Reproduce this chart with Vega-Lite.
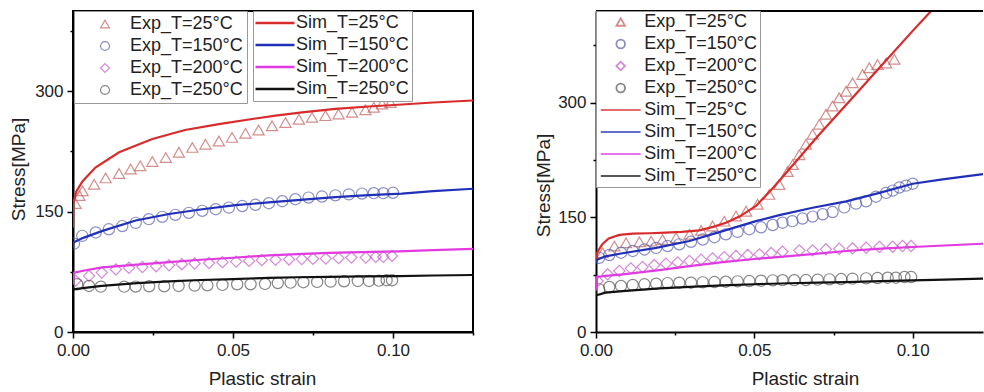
{
  "$schema": "https://vega.github.io/schema/vega-lite/v6.json",
  "padding": {"left": 8, "top": 9, "right": 0, "bottom": 0},
  "background": "white",
  "config": {
    "font": "Liberation Sans",
    "view": {"stroke": "black", "strokeWidth": 2},
    "axis": {"grid": false, "domainColor": "black", "domainWidth": 2, "tickColor": "black", "tickWidth": 1.5, "labelFont": "Liberation Sans", "labelFontSize": 17, "labelColor": "#222", "labelPadding": 4, "labelFlush": false, "titleFont": "Liberation Sans", "titleFontSize": 19, "titleFontWeight": "normal", "titleColor": "#222"},
    "legend": {"labelFont": "Liberation Sans", "labelFontSize": 18, "labelColor": "#222", "rowPadding": 4, "strokeColor": "#999", "fillColor": "white", "padding": 4, "orient": "none"}
  },
  "datasets": {
    "leftExp": [
      {"strain": 0.0008, "stress": 160, "series": "Exp_T=25°C"},
      {"strain": 0.002, "stress": 170, "series": "Exp_T=25°C"},
      {"strain": 0.003, "stress": 176, "series": "Exp_T=25°C"},
      {"strain": 0.0066, "stress": 184, "series": "Exp_T=25°C"},
      {"strain": 0.0102, "stress": 192, "series": "Exp_T=25°C"},
      {"strain": 0.0144, "stress": 197.5, "series": "Exp_T=25°C"},
      {"strain": 0.018, "stress": 203, "series": "Exp_T=25°C"},
      {"strain": 0.021, "stress": 207, "series": "Exp_T=25°C"},
      {"strain": 0.0248, "stress": 212.5, "series": "Exp_T=25°C"},
      {"strain": 0.029, "stress": 217.5, "series": "Exp_T=25°C"},
      {"strain": 0.0331, "stress": 224, "series": "Exp_T=25°C"},
      {"strain": 0.0373, "stress": 230, "series": "Exp_T=25°C"},
      {"strain": 0.0414, "stress": 234, "series": "Exp_T=25°C"},
      {"strain": 0.0456, "stress": 238, "series": "Exp_T=25°C"},
      {"strain": 0.0497, "stress": 242.5, "series": "Exp_T=25°C"},
      {"strain": 0.0539, "stress": 247.5, "series": "Exp_T=25°C"},
      {"strain": 0.058, "stress": 251.7, "series": "Exp_T=25°C"},
      {"strain": 0.0622, "stress": 257, "series": "Exp_T=25°C"},
      {"strain": 0.0664, "stress": 261, "series": "Exp_T=25°C"},
      {"strain": 0.0706, "stress": 265, "series": "Exp_T=25°C"},
      {"strain": 0.0747, "stress": 267.5, "series": "Exp_T=25°C"},
      {"strain": 0.0789, "stress": 269.6, "series": "Exp_T=25°C"},
      {"strain": 0.083, "stress": 271.7, "series": "Exp_T=25°C"},
      {"strain": 0.0872, "stress": 273.7, "series": "Exp_T=25°C"},
      {"strain": 0.0914, "stress": 277, "series": "Exp_T=25°C"},
      {"strain": 0.094, "stress": 280, "series": "Exp_T=25°C"},
      {"strain": 0.0966, "stress": 284, "series": "Exp_T=25°C"},
      {"strain": 0.0992, "stress": 286, "series": "Exp_T=25°C"},
      {"strain": 0.0003, "stress": 110, "series": "Exp_T=150°C"},
      {"strain": 0.0029, "stress": 119.8, "series": "Exp_T=150°C"},
      {"strain": 0.0071, "stress": 124, "series": "Exp_T=150°C"},
      {"strain": 0.0112, "stress": 128, "series": "Exp_T=150°C"},
      {"strain": 0.0154, "stress": 132, "series": "Exp_T=150°C"},
      {"strain": 0.0196, "stress": 136, "series": "Exp_T=150°C"},
      {"strain": 0.0237, "stress": 140.6, "series": "Exp_T=150°C"},
      {"strain": 0.0279, "stress": 143.5, "series": "Exp_T=150°C"},
      {"strain": 0.032, "stress": 146, "series": "Exp_T=150°C"},
      {"strain": 0.0362, "stress": 148.5, "series": "Exp_T=150°C"},
      {"strain": 0.0404, "stress": 151, "series": "Exp_T=150°C"},
      {"strain": 0.0446, "stress": 153, "series": "Exp_T=150°C"},
      {"strain": 0.0487, "stress": 155, "series": "Exp_T=150°C"},
      {"strain": 0.0529, "stress": 157, "series": "Exp_T=150°C"},
      {"strain": 0.057, "stress": 158.5, "series": "Exp_T=150°C"},
      {"strain": 0.0612, "stress": 160.5, "series": "Exp_T=150°C"},
      {"strain": 0.0654, "stress": 163, "series": "Exp_T=150°C"},
      {"strain": 0.0695, "stress": 165.5, "series": "Exp_T=150°C"},
      {"strain": 0.0736, "stress": 167.5, "series": "Exp_T=150°C"},
      {"strain": 0.0778, "stress": 168.8, "series": "Exp_T=150°C"},
      {"strain": 0.082, "stress": 170.3, "series": "Exp_T=150°C"},
      {"strain": 0.0862, "stress": 171.5, "series": "Exp_T=150°C"},
      {"strain": 0.0903, "stress": 172.5, "series": "Exp_T=150°C"},
      {"strain": 0.094, "stress": 173, "series": "Exp_T=150°C"},
      {"strain": 0.097, "stress": 173, "series": "Exp_T=150°C"},
      {"strain": 0.1, "stress": 173.5, "series": "Exp_T=150°C"},
      {"strain": 0.0008, "stress": 64, "series": "Exp_T=200°C"},
      {"strain": 0.005, "stress": 70, "series": "Exp_T=200°C"},
      {"strain": 0.009, "stress": 74, "series": "Exp_T=200°C"},
      {"strain": 0.0134, "stress": 78, "series": "Exp_T=200°C"},
      {"strain": 0.0175, "stress": 80, "series": "Exp_T=200°C"},
      {"strain": 0.0217, "stress": 81, "series": "Exp_T=200°C"},
      {"strain": 0.026, "stress": 82, "series": "Exp_T=200°C"},
      {"strain": 0.03, "stress": 83.2, "series": "Exp_T=200°C"},
      {"strain": 0.034, "stress": 84.5, "series": "Exp_T=200°C"},
      {"strain": 0.038, "stress": 85.3, "series": "Exp_T=200°C"},
      {"strain": 0.0425, "stress": 86, "series": "Exp_T=200°C"},
      {"strain": 0.0467, "stress": 87, "series": "Exp_T=200°C"},
      {"strain": 0.051, "stress": 87.7, "series": "Exp_T=200°C"},
      {"strain": 0.055, "stress": 88.6, "series": "Exp_T=200°C"},
      {"strain": 0.059, "stress": 89.5, "series": "Exp_T=200°C"},
      {"strain": 0.0633, "stress": 90, "series": "Exp_T=200°C"},
      {"strain": 0.0675, "stress": 90.4, "series": "Exp_T=200°C"},
      {"strain": 0.0715, "stress": 90.9, "series": "Exp_T=200°C"},
      {"strain": 0.075, "stress": 91.3, "series": "Exp_T=200°C"},
      {"strain": 0.079, "stress": 91.5, "series": "Exp_T=200°C"},
      {"strain": 0.083, "stress": 92, "series": "Exp_T=200°C"},
      {"strain": 0.087, "stress": 92.8, "series": "Exp_T=200°C"},
      {"strain": 0.0915, "stress": 92.8, "series": "Exp_T=200°C"},
      {"strain": 0.0946, "stress": 93.6, "series": "Exp_T=200°C"},
      {"strain": 0.097, "stress": 93.6, "series": "Exp_T=200°C"},
      {"strain": 0.0997, "stress": 94.8, "series": "Exp_T=200°C"},
      {"strain": 0.0013, "stress": 59.5, "series": "Exp_T=250°C"},
      {"strain": 0.005, "stress": 57.4, "series": "Exp_T=250°C"},
      {"strain": 0.0087, "stress": 56.5, "series": "Exp_T=250°C"},
      {"strain": 0.016, "stress": 56.5, "series": "Exp_T=250°C"},
      {"strain": 0.0196, "stress": 56.6, "series": "Exp_T=250°C"},
      {"strain": 0.0238, "stress": 57, "series": "Exp_T=250°C"},
      {"strain": 0.0285, "stress": 57, "series": "Exp_T=250°C"},
      {"strain": 0.033, "stress": 57.4, "series": "Exp_T=250°C"},
      {"strain": 0.038, "stress": 57.8, "series": "Exp_T=250°C"},
      {"strain": 0.042, "stress": 58.2, "series": "Exp_T=250°C"},
      {"strain": 0.0467, "stress": 58.7, "series": "Exp_T=250°C"},
      {"strain": 0.0513, "stress": 59.5, "series": "Exp_T=250°C"},
      {"strain": 0.0555, "stress": 59.5, "series": "Exp_T=250°C"},
      {"strain": 0.06, "stress": 59.9, "series": "Exp_T=250°C"},
      {"strain": 0.064, "stress": 61, "series": "Exp_T=250°C"},
      {"strain": 0.068, "stress": 61.5, "series": "Exp_T=250°C"},
      {"strain": 0.072, "stress": 62, "series": "Exp_T=250°C"},
      {"strain": 0.0763, "stress": 62.4, "series": "Exp_T=250°C"},
      {"strain": 0.0805, "stress": 62.8, "series": "Exp_T=250°C"},
      {"strain": 0.0847, "stress": 63.2, "series": "Exp_T=250°C"},
      {"strain": 0.089, "stress": 63.6, "series": "Exp_T=250°C"},
      {"strain": 0.0925, "stress": 63.6, "series": "Exp_T=250°C"},
      {"strain": 0.0956, "stress": 64, "series": "Exp_T=250°C"},
      {"strain": 0.098, "stress": 64.5, "series": "Exp_T=250°C"},
      {"strain": 0.0997, "stress": 64.5, "series": "Exp_T=250°C"}
    ],
    "leftSim": [
      {"strain": 0, "stress": 130, "series": "Sim_T=25°C"},
      {"strain": 0.0001, "stress": 160, "series": "Sim_T=25°C"},
      {"strain": 0.001, "stress": 175, "series": "Sim_T=25°C"},
      {"strain": 0.003, "stress": 188, "series": "Sim_T=25°C"},
      {"strain": 0.007, "stress": 205, "series": "Sim_T=25°C"},
      {"strain": 0.0144, "stress": 224, "series": "Sim_T=25°C"},
      {"strain": 0.0248, "stress": 240.5, "series": "Sim_T=25°C"},
      {"strain": 0.035, "stress": 251.7, "series": "Sim_T=25°C"},
      {"strain": 0.0456, "stress": 259, "series": "Sim_T=25°C"},
      {"strain": 0.056, "stress": 265.4, "series": "Sim_T=25°C"},
      {"strain": 0.0633, "stress": 269.6, "series": "Sim_T=25°C"},
      {"strain": 0.0716, "stress": 273.7, "series": "Sim_T=25°C"},
      {"strain": 0.082, "stress": 278, "series": "Sim_T=25°C"},
      {"strain": 0.0924, "stress": 281, "series": "Sim_T=25°C"},
      {"strain": 0.1028, "stress": 283.5, "series": "Sim_T=25°C"},
      {"strain": 0.1125, "stress": 286, "series": "Sim_T=25°C"},
      {"strain": 0.125, "stress": 288.5, "series": "Sim_T=25°C"},
      {"strain": 0, "stress": 105, "series": "Sim_T=150°C"},
      {"strain": 0.0001, "stress": 111.5, "series": "Sim_T=150°C"},
      {"strain": 0.003, "stress": 117, "series": "Sim_T=150°C"},
      {"strain": 0.0092, "stress": 126, "series": "Sim_T=150°C"},
      {"strain": 0.0196, "stress": 139, "series": "Sim_T=150°C"},
      {"strain": 0.03, "stress": 147, "series": "Sim_T=150°C"},
      {"strain": 0.0404, "stress": 153, "series": "Sim_T=150°C"},
      {"strain": 0.0508, "stress": 158, "series": "Sim_T=150°C"},
      {"strain": 0.0612, "stress": 161.5, "series": "Sim_T=150°C"},
      {"strain": 0.072, "stress": 165, "series": "Sim_T=150°C"},
      {"strain": 0.082, "stress": 168, "series": "Sim_T=150°C"},
      {"strain": 0.0924, "stress": 170.5, "series": "Sim_T=150°C"},
      {"strain": 0.1028, "stress": 172.5, "series": "Sim_T=150°C"},
      {"strain": 0.1125, "stress": 175.5, "series": "Sim_T=150°C"},
      {"strain": 0.125, "stress": 178.5, "series": "Sim_T=150°C"},
      {"strain": 0, "stress": 60, "series": "Sim_T=200°C"},
      {"strain": 0.0003, "stress": 74, "series": "Sim_T=200°C"},
      {"strain": 0.004, "stress": 77, "series": "Sim_T=200°C"},
      {"strain": 0.0092, "stress": 80.5, "series": "Sim_T=200°C"},
      {"strain": 0.02, "stress": 84, "series": "Sim_T=200°C"},
      {"strain": 0.03, "stress": 87, "series": "Sim_T=200°C"},
      {"strain": 0.04, "stress": 90, "series": "Sim_T=200°C"},
      {"strain": 0.05, "stress": 92.5, "series": "Sim_T=200°C"},
      {"strain": 0.0612, "stress": 95.5, "series": "Sim_T=200°C"},
      {"strain": 0.07, "stress": 97, "series": "Sim_T=200°C"},
      {"strain": 0.08, "stress": 98.5, "series": "Sim_T=200°C"},
      {"strain": 0.09, "stress": 99.5, "series": "Sim_T=200°C"},
      {"strain": 0.1018, "stress": 100.5, "series": "Sim_T=200°C"},
      {"strain": 0.1125, "stress": 102, "series": "Sim_T=200°C"},
      {"strain": 0.125, "stress": 103.5, "series": "Sim_T=200°C"},
      {"strain": 0, "stress": 53, "series": "Sim_T=250°C"},
      {"strain": 0.005, "stress": 55.5, "series": "Sim_T=250°C"},
      {"strain": 0.009, "stress": 57.4, "series": "Sim_T=250°C"},
      {"strain": 0.02, "stress": 61, "series": "Sim_T=250°C"},
      {"strain": 0.03, "stress": 63.2, "series": "Sim_T=250°C"},
      {"strain": 0.04, "stress": 64.8, "series": "Sim_T=250°C"},
      {"strain": 0.05, "stress": 66, "series": "Sim_T=250°C"},
      {"strain": 0.0612, "stress": 67.5, "series": "Sim_T=250°C"},
      {"strain": 0.07, "stress": 68.2, "series": "Sim_T=250°C"},
      {"strain": 0.08, "stress": 68.8, "series": "Sim_T=250°C"},
      {"strain": 0.09, "stress": 69.2, "series": "Sim_T=250°C"},
      {"strain": 0.1018, "stress": 69.7, "series": "Sim_T=250°C"},
      {"strain": 0.1125, "stress": 70.4, "series": "Sim_T=250°C"},
      {"strain": 0.125, "stress": 71, "series": "Sim_T=250°C"}
    ],
    "rightExp": [
      {"strain": 0.0021, "stress": 103.7, "series": "Exp_T=25°C"},
      {"strain": 0.0058, "stress": 112.5, "series": "Exp_T=25°C"},
      {"strain": 0.0095, "stress": 116.8, "series": "Exp_T=25°C"},
      {"strain": 0.0137, "stress": 118, "series": "Exp_T=25°C"},
      {"strain": 0.0174, "stress": 119, "series": "Exp_T=25°C"},
      {"strain": 0.021, "stress": 121, "series": "Exp_T=25°C"},
      {"strain": 0.0253, "stress": 123.4, "series": "Exp_T=25°C"},
      {"strain": 0.0295, "stress": 127.8, "series": "Exp_T=25°C"},
      {"strain": 0.0332, "stress": 133, "series": "Exp_T=25°C"},
      {"strain": 0.0368, "stress": 138.7, "series": "Exp_T=25°C"},
      {"strain": 0.0405, "stress": 145, "series": "Exp_T=25°C"},
      {"strain": 0.0442, "stress": 151.7, "series": "Exp_T=25°C"},
      {"strain": 0.0474, "stress": 158, "series": "Exp_T=25°C"},
      {"strain": 0.051, "stress": 167, "series": "Exp_T=25°C"},
      {"strain": 0.0547, "stress": 180, "series": "Exp_T=25°C"},
      {"strain": 0.0579, "stress": 193, "series": "Exp_T=25°C"},
      {"strain": 0.0605, "stress": 210, "series": "Exp_T=25°C"},
      {"strain": 0.0621, "stress": 219, "series": "Exp_T=25°C"},
      {"strain": 0.0642, "stress": 232, "series": "Exp_T=25°C"},
      {"strain": 0.0663, "stress": 245.5, "series": "Exp_T=25°C"},
      {"strain": 0.0684, "stress": 258.6, "series": "Exp_T=25°C"},
      {"strain": 0.0705, "stress": 271.7, "series": "Exp_T=25°C"},
      {"strain": 0.0726, "stress": 284.8, "series": "Exp_T=25°C"},
      {"strain": 0.0747, "stress": 295.7, "series": "Exp_T=25°C"},
      {"strain": 0.0768, "stress": 306.5, "series": "Exp_T=25°C"},
      {"strain": 0.079, "stress": 315, "series": "Exp_T=25°C"},
      {"strain": 0.081, "stress": 326, "series": "Exp_T=25°C"},
      {"strain": 0.0842, "stress": 337, "series": "Exp_T=25°C"},
      {"strain": 0.0863, "stress": 345.8, "series": "Exp_T=25°C"},
      {"strain": 0.0889, "stress": 350, "series": "Exp_T=25°C"},
      {"strain": 0.0916, "stress": 352, "series": "Exp_T=25°C"},
      {"strain": 0.0942, "stress": 356.7, "series": "Exp_T=25°C"},
      {"strain": 0.001, "stress": 97, "series": "Exp_T=150°C"},
      {"strain": 0.0042, "stress": 100.7, "series": "Exp_T=150°C"},
      {"strain": 0.0079, "stress": 103.7, "series": "Exp_T=150°C"},
      {"strain": 0.0116, "stress": 106, "series": "Exp_T=150°C"},
      {"strain": 0.0153, "stress": 108, "series": "Exp_T=150°C"},
      {"strain": 0.019, "stress": 110, "series": "Exp_T=150°C"},
      {"strain": 0.0226, "stress": 112.5, "series": "Exp_T=150°C"},
      {"strain": 0.0263, "stress": 114.7, "series": "Exp_T=150°C"},
      {"strain": 0.03, "stress": 118, "series": "Exp_T=150°C"},
      {"strain": 0.0337, "stress": 121, "series": "Exp_T=150°C"},
      {"strain": 0.0374, "stress": 124, "series": "Exp_T=150°C"},
      {"strain": 0.041, "stress": 127.8, "series": "Exp_T=150°C"},
      {"strain": 0.0447, "stress": 131, "series": "Exp_T=150°C"},
      {"strain": 0.0484, "stress": 134.5, "series": "Exp_T=150°C"},
      {"strain": 0.0521, "stress": 137, "series": "Exp_T=150°C"},
      {"strain": 0.0558, "stress": 140, "series": "Exp_T=150°C"},
      {"strain": 0.0589, "stress": 143, "series": "Exp_T=150°C"},
      {"strain": 0.062, "stress": 145, "series": "Exp_T=150°C"},
      {"strain": 0.0652, "stress": 148.5, "series": "Exp_T=150°C"},
      {"strain": 0.0684, "stress": 151, "series": "Exp_T=150°C"},
      {"strain": 0.0716, "stress": 154, "series": "Exp_T=150°C"},
      {"strain": 0.0747, "stress": 157, "series": "Exp_T=150°C"},
      {"strain": 0.0784, "stress": 163, "series": "Exp_T=150°C"},
      {"strain": 0.0821, "stress": 168, "series": "Exp_T=150°C"},
      {"strain": 0.0853, "stress": 171, "series": "Exp_T=150°C"},
      {"strain": 0.0884, "stress": 177, "series": "Exp_T=150°C"},
      {"strain": 0.0916, "stress": 182, "series": "Exp_T=150°C"},
      {"strain": 0.0937, "stress": 185, "series": "Exp_T=150°C"},
      {"strain": 0.0958, "stress": 189, "series": "Exp_T=150°C"},
      {"strain": 0.0979, "stress": 191.5, "series": "Exp_T=150°C"},
      {"strain": 0.1, "stress": 194, "series": "Exp_T=150°C"},
      {"strain": 0.0005, "stress": 66.7, "series": "Exp_T=200°C"},
      {"strain": 0.0037, "stress": 75.5, "series": "Exp_T=200°C"},
      {"strain": 0.0074, "stress": 79.8, "series": "Exp_T=200°C"},
      {"strain": 0.011, "stress": 83.3, "series": "Exp_T=200°C"},
      {"strain": 0.0147, "stress": 85, "series": "Exp_T=200°C"},
      {"strain": 0.0184, "stress": 87.6, "series": "Exp_T=200°C"},
      {"strain": 0.0221, "stress": 89.4, "series": "Exp_T=200°C"},
      {"strain": 0.0258, "stress": 91, "series": "Exp_T=200°C"},
      {"strain": 0.0295, "stress": 92.9, "series": "Exp_T=200°C"},
      {"strain": 0.0332, "stress": 94.6, "series": "Exp_T=200°C"},
      {"strain": 0.0368, "stress": 96.4, "series": "Exp_T=200°C"},
      {"strain": 0.0405, "stress": 98, "series": "Exp_T=200°C"},
      {"strain": 0.0442, "stress": 99.4, "series": "Exp_T=200°C"},
      {"strain": 0.0479, "stress": 100.7, "series": "Exp_T=200°C"},
      {"strain": 0.0516, "stress": 101.6, "series": "Exp_T=200°C"},
      {"strain": 0.0553, "stress": 103.3, "series": "Exp_T=200°C"},
      {"strain": 0.0589, "stress": 105, "series": "Exp_T=200°C"},
      {"strain": 0.0642, "stress": 106.8, "series": "Exp_T=200°C"},
      {"strain": 0.0684, "stress": 106.8, "series": "Exp_T=200°C"},
      {"strain": 0.0726, "stress": 108.2, "series": "Exp_T=200°C"},
      {"strain": 0.0768, "stress": 109, "series": "Exp_T=200°C"},
      {"strain": 0.081, "stress": 109.5, "series": "Exp_T=200°C"},
      {"strain": 0.0853, "stress": 110.3, "series": "Exp_T=200°C"},
      {"strain": 0.0895, "stress": 111.2, "series": "Exp_T=200°C"},
      {"strain": 0.0937, "stress": 111.6, "series": "Exp_T=200°C"},
      {"strain": 0.0968, "stress": 112.5, "series": "Exp_T=200°C"},
      {"strain": 0.0995, "stress": 112.5, "series": "Exp_T=200°C"},
      {"strain": 0.001, "stress": 55.8, "series": "Exp_T=250°C"},
      {"strain": 0.0042, "stress": 58.9, "series": "Exp_T=250°C"},
      {"strain": 0.0079, "stress": 60.2, "series": "Exp_T=250°C"},
      {"strain": 0.0116, "stress": 61.5, "series": "Exp_T=250°C"},
      {"strain": 0.0153, "stress": 62.4, "series": "Exp_T=250°C"},
      {"strain": 0.019, "stress": 63.2, "series": "Exp_T=250°C"},
      {"strain": 0.0226, "stress": 64, "series": "Exp_T=250°C"},
      {"strain": 0.0263, "stress": 64.5, "series": "Exp_T=250°C"},
      {"strain": 0.03, "stress": 64.5, "series": "Exp_T=250°C"},
      {"strain": 0.0337, "stress": 65, "series": "Exp_T=250°C"},
      {"strain": 0.0374, "stress": 65.4, "series": "Exp_T=250°C"},
      {"strain": 0.041, "stress": 65.8, "series": "Exp_T=250°C"},
      {"strain": 0.0447, "stress": 66.3, "series": "Exp_T=250°C"},
      {"strain": 0.0484, "stress": 66.7, "series": "Exp_T=250°C"},
      {"strain": 0.0521, "stress": 67.1, "series": "Exp_T=250°C"},
      {"strain": 0.0558, "stress": 67.6, "series": "Exp_T=250°C"},
      {"strain": 0.0589, "stress": 67.8, "series": "Exp_T=250°C"},
      {"strain": 0.0626, "stress": 67.8, "series": "Exp_T=250°C"},
      {"strain": 0.0663, "stress": 68, "series": "Exp_T=250°C"},
      {"strain": 0.07, "stress": 68.5, "series": "Exp_T=250°C"},
      {"strain": 0.0737, "stress": 68.9, "series": "Exp_T=250°C"},
      {"strain": 0.0774, "stress": 69.3, "series": "Exp_T=250°C"},
      {"strain": 0.081, "stress": 69.8, "series": "Exp_T=250°C"},
      {"strain": 0.0853, "stress": 70.2, "series": "Exp_T=250°C"},
      {"strain": 0.0889, "stress": 70.6, "series": "Exp_T=250°C"},
      {"strain": 0.0921, "stress": 71, "series": "Exp_T=250°C"},
      {"strain": 0.0947, "stress": 71, "series": "Exp_T=250°C"},
      {"strain": 0.0974, "stress": 71.9, "series": "Exp_T=250°C"},
      {"strain": 0.0995, "stress": 71.9, "series": "Exp_T=250°C"}
    ],
    "rightSim": [
      {"strain": 0, "stress": 93, "series": "Sim_T=25°C"},
      {"strain": 0.0005, "stress": 105, "series": "Sim_T=25°C"},
      {"strain": 0.002, "stress": 115, "series": "Sim_T=25°C"},
      {"strain": 0.004, "stress": 122.5, "series": "Sim_T=25°C"},
      {"strain": 0.0074, "stress": 127, "series": "Sim_T=25°C"},
      {"strain": 0.0116, "stress": 128.6, "series": "Sim_T=25°C"},
      {"strain": 0.017, "stress": 129.2, "series": "Sim_T=25°C"},
      {"strain": 0.022, "stress": 130, "series": "Sim_T=25°C"},
      {"strain": 0.027, "stress": 131, "series": "Sim_T=25°C"},
      {"strain": 0.0326, "stress": 133, "series": "Sim_T=25°C"},
      {"strain": 0.037, "stress": 137.5, "series": "Sim_T=25°C"},
      {"strain": 0.041, "stress": 143, "series": "Sim_T=25°C"},
      {"strain": 0.0453, "stress": 151, "series": "Sim_T=25°C"},
      {"strain": 0.0505, "stress": 165, "series": "Sim_T=25°C"},
      {"strain": 0.0558, "stress": 188, "series": "Sim_T=25°C"},
      {"strain": 0.06, "stress": 208, "series": "Sim_T=25°C"},
      {"strain": 0.065, "stress": 232, "series": "Sim_T=25°C"},
      {"strain": 0.07, "stress": 256, "series": "Sim_T=25°C"},
      {"strain": 0.08, "stress": 302, "series": "Sim_T=25°C"},
      {"strain": 0.09, "stress": 348, "series": "Sim_T=25°C"},
      {"strain": 0.1, "stress": 394, "series": "Sim_T=25°C"},
      {"strain": 0.1065, "stress": 423, "series": "Sim_T=25°C"},
      {"strain": 0, "stress": 91, "series": "Sim_T=150°C"},
      {"strain": 0.0005, "stress": 95, "series": "Sim_T=150°C"},
      {"strain": 0.003, "stress": 99, "series": "Sim_T=150°C"},
      {"strain": 0.0084, "stress": 103, "series": "Sim_T=150°C"},
      {"strain": 0.019, "stress": 110, "series": "Sim_T=150°C"},
      {"strain": 0.0295, "stress": 119, "series": "Sim_T=150°C"},
      {"strain": 0.04, "stress": 132, "series": "Sim_T=150°C"},
      {"strain": 0.0505, "stress": 145, "series": "Sim_T=150°C"},
      {"strain": 0.0579, "stress": 153, "series": "Sim_T=150°C"},
      {"strain": 0.0684, "stress": 162.6, "series": "Sim_T=150°C"},
      {"strain": 0.079, "stress": 171, "series": "Sim_T=150°C"},
      {"strain": 0.0895, "stress": 182, "series": "Sim_T=150°C"},
      {"strain": 0.1, "stress": 194, "series": "Sim_T=150°C"},
      {"strain": 0.11, "stress": 200, "series": "Sim_T=150°C"},
      {"strain": 0.121, "stress": 206, "series": "Sim_T=150°C"},
      {"strain": 0.125, "stress": 208, "series": "Sim_T=150°C"},
      {"strain": 0, "stress": 54, "series": "Sim_T=200°C"},
      {"strain": 0.0001, "stress": 72, "series": "Sim_T=200°C"},
      {"strain": 0.003, "stress": 73.5, "series": "Sim_T=200°C"},
      {"strain": 0.0084, "stress": 75.5, "series": "Sim_T=200°C"},
      {"strain": 0.02, "stress": 81, "series": "Sim_T=200°C"},
      {"strain": 0.0295, "stress": 86.3, "series": "Sim_T=200°C"},
      {"strain": 0.04, "stress": 91.5, "series": "Sim_T=200°C"},
      {"strain": 0.05, "stress": 95.5, "series": "Sim_T=200°C"},
      {"strain": 0.061, "stress": 99.4, "series": "Sim_T=200°C"},
      {"strain": 0.07, "stress": 102.5, "series": "Sim_T=200°C"},
      {"strain": 0.079, "stress": 106, "series": "Sim_T=200°C"},
      {"strain": 0.09, "stress": 109, "series": "Sim_T=200°C"},
      {"strain": 0.1, "stress": 111.2, "series": "Sim_T=200°C"},
      {"strain": 0.11, "stress": 113.2, "series": "Sim_T=200°C"},
      {"strain": 0.122, "stress": 115.5, "series": "Sim_T=200°C"},
      {"strain": 0.125, "stress": 116, "series": "Sim_T=200°C"},
      {"strain": 0, "stress": 48, "series": "Sim_T=250°C"},
      {"strain": 0.003, "stress": 51.5, "series": "Sim_T=250°C"},
      {"strain": 0.0084, "stress": 53.6, "series": "Sim_T=250°C"},
      {"strain": 0.02, "stress": 57, "series": "Sim_T=250°C"},
      {"strain": 0.0295, "stress": 59, "series": "Sim_T=250°C"},
      {"strain": 0.04, "stress": 61, "series": "Sim_T=250°C"},
      {"strain": 0.05, "stress": 62.5, "series": "Sim_T=250°C"},
      {"strain": 0.061, "stress": 63.8, "series": "Sim_T=250°C"},
      {"strain": 0.07, "stress": 64.5, "series": "Sim_T=250°C"},
      {"strain": 0.079, "stress": 65.3, "series": "Sim_T=250°C"},
      {"strain": 0.09, "stress": 66.5, "series": "Sim_T=250°C"},
      {"strain": 0.1, "stress": 67.6, "series": "Sim_T=250°C"},
      {"strain": 0.11, "stress": 68.6, "series": "Sim_T=250°C"},
      {"strain": 0.122, "stress": 69.8, "series": "Sim_T=250°C"},
      {"strain": 0.125, "stress": 70, "series": "Sim_T=250°C"}
    ],
    "topEdge": [{"level": 420}]
  },
  "spacing": 123,
  "bounds": "flush",
  "resolve": {
    "scale": {"x": "independent", "y": "independent", "color": "independent", "stroke": "independent", "shape": "independent"},
    "legend": {"color": "independent", "stroke": "independent", "shape": "independent"}
  },
  "hconcat": [
    {
      "width": 400,
      "height": 321,
      "layer": [
        {
          "data": {"name": "leftExp"},
          "mark": {"type": "point", "filled": false, "size": 125, "strokeWidth": 1.2, "clip": true},
          "encoding": {
            "x": {"field": "strain", "type": "quantitative", "scale": {"domain": [0, 0.125], "nice": false, "zero": false},
              "axis": {"values": [0, 0.025, 0.05, 0.075, 0.1, 0.125], "labelExpr": "abs(datum.value*20 - round(datum.value*20)) < 0.001 ? format(datum.value, '.2f') : ''", "tickSize": {"condition": {"test": "abs(datum.value*20 - round(datum.value*20)) < 0.001", "value": 6}, "value": 3}, "title": "Plastic strain", "titlePadding": 11, "titleX": 189}},
            "y": {"field": "stress", "type": "quantitative", "scale": {"domain": [0, 400], "nice": false},
              "axis": {"values": [0, 75, 150, 225, 300, 375], "labelExpr": "datum.value % 150 === 0 ? datum.label : ''", "tickSize": {"condition": {"test": "datum.value % 150 === 0", "value": 6}, "value": 3}, "title": "Stress[MPa]", "titlePadding": 6, "titleY": 158}},
            "shape": {"field": "series", "type": "nominal",
              "scale": {"domain": ["Exp_T=25°C", "Exp_T=150°C", "Exp_T=200°C", "Exp_T=250°C"], "range": ["triangle-up", "circle", "diamond", "circle"]},
              "legend": {"title": null, "orient": "none", "legendX": 1, "legendY": 0, "padding": 4, "symbolOffset": 18, "labelOffset": 16, "symbolSize": 80, "symbolStrokeWidth": 1.2}},
            "stroke": {"field": "series", "type": "nominal",
              "scale": {"domain": ["Exp_T=25°C", "Exp_T=150°C", "Exp_T=200°C", "Exp_T=250°C"], "range": ["#c0605f", "#5b5fae", "#c25ac7", "#555555"]},
              "legend": {"title": null, "orient": "none", "legendX": 1, "legendY": 0, "padding": 4, "symbolOffset": 18, "labelOffset": 16, "symbolSize": 80, "symbolStrokeWidth": 1.2}}
          }
        },
        {
          "data": {"name": "leftSim"},
          "mark": {"type": "line", "strokeWidth": 2.2, "clip": true},
          "encoding": {
            "x": {"field": "strain", "type": "quantitative"},
            "y": {"field": "stress", "type": "quantitative"},
            "color": {"field": "series", "type": "nominal",
              "scale": {"domain": ["Sim_T=25°C", "Sim_T=150°C", "Sim_T=200°C", "Sim_T=250°C"], "range": ["#d92b2b", "#2130b8", "#e03ae0", "#111111"]},
              "legend": {"title": null, "orient": "none", "legendX": 180, "legendY": 0, "padding": 3, "symbolType": "M-4,0H4", "symbolSize": 95, "symbolStrokeWidth": 2.5, "symbolOffset": 10, "labelOffset": 12}}
          }
        }
      ]
    },
    {
      "width": 387,
      "height": 321,
      "view": {"stroke": null},
      "layer": [
        {
          "data": {"name": "rightExp"},
          "mark": {"type": "point", "filled": false, "size": 125, "strokeWidth": 1.2, "clip": true},
          "encoding": {
            "x": {"field": "strain", "type": "quantitative", "scale": {"domain": [0, 0.1222], "nice": false, "zero": false},
              "axis": {"values": [0, 0.025, 0.05, 0.075, 0.1], "labelExpr": "abs(datum.value*20 - round(datum.value*20)) < 0.001 ? format(datum.value, '.2f') : ''", "tickSize": {"condition": {"test": "abs(datum.value*20 - round(datum.value*20)) < 0.001", "value": 6}, "value": 3}, "title": "Plastic strain", "titlePadding": 11, "titleX": 209}},
            "y": {"field": "stress", "type": "quantitative", "scale": {"domain": [0, 420], "nice": false},
              "axis": {"values": [0, 75, 150, 225, 300, 375], "labelExpr": "datum.value % 150 === 0 ? datum.label : ''", "tickSize": {"condition": {"test": "datum.value % 150 === 0", "value": 6}, "value": 3}, "title": "Stress[MPa]", "titlePadding": 4, "titleY": 174}},
            "shape": {"field": "series", "type": "nominal",
              "scale": {"domain": ["Exp_T=25°C", "Exp_T=150°C", "Exp_T=200°C", "Exp_T=250°C", "Sim_T=25°C", "Sim_T=150°C", "Sim_T=200°C", "Sim_T=250°C"], "range": ["triangle-up", "circle", "diamond", "circle", "M-4.6,0H4.6", "M-4.6,0H4.6", "M-4.6,0H4.6", "M-4.6,0H4.6"]},
              "legend": {"title": null, "orient": "none", "legendX": 0, "legendY": 0, "padding": 2, "symbolSize": 75, "symbolStrokeWidth": 1.8, "symbolOffset": 13.7, "labelOffset": 14.6}},
            "stroke": {"field": "series", "type": "nominal",
              "scale": {"domain": ["Exp_T=25°C", "Exp_T=150°C", "Exp_T=200°C", "Exp_T=250°C", "Sim_T=25°C", "Sim_T=150°C", "Sim_T=200°C", "Sim_T=250°C"], "range": ["#c0605f", "#5b5fae", "#c25ac7", "#555555", "#d92b2b", "#2130b8", "#e03ae0", "#111111"]},
              "legend": {"title": null, "orient": "none", "legendX": 0, "legendY": 0, "padding": 2, "symbolSize": 75, "symbolStrokeWidth": 1.8, "symbolOffset": 13.7, "labelOffset": 14.6}}
          }
        },
        {
          "data": {"name": "rightSim"},
          "mark": {"type": "line", "strokeWidth": 2.2, "clip": true},
          "encoding": {
            "x": {"field": "strain", "type": "quantitative"},
            "y": {"field": "stress", "type": "quantitative"},
            "stroke": {"field": "series", "type": "nominal"}
          }
        },
        {
          "data": {"name": "topEdge"},
          "mark": {"type": "rule", "color": "black", "strokeWidth": 2},
          "encoding": {"y": {"field": "level", "type": "quantitative"}}
        }
      ]
    }
  ]
}
